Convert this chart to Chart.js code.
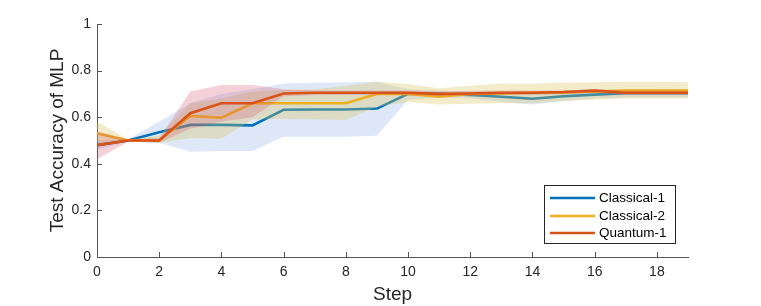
<!DOCTYPE html>
<html>
<head>
<meta charset="utf-8">
<script src="https://cdn.jsdelivr.net/npm/chart.js@4"></script>
<style>
  html, body { margin: 0; padding: 0; background: #fff; }
  #wrap { width: 761px; height: 306px; }
</style>
</head>
<body>
<div id="wrap"><canvas id="chart" width="761" height="306"></canvas></div>
<script>
let steps = [0,1,2,3,4,5,6,7,8,9,10,11,12,13,14,15,16,17,18,19];

let names = ["Classical-1", "Classical-2", "Quantum-1"];

// mean curves
let classical1 = [0.48,0.50,0.535,0.567,0.567,0.565,0.632,0.633,0.633,0.637,0.70,0.70,0.695,0.688,0.679,0.69,0.697,0.703,0.703,0.703];
let classical2 = [0.53,0.50,0.50,0.605,0.598,0.66,0.66,0.66,0.66,0.70,0.70,0.688,0.70,0.702,0.705,0.705,0.71,0.714,0.714,0.714];
let quantum1   = [0.48,0.50,0.50,0.617,0.66,0.66,0.702,0.705,0.705,0.705,0.705,0.70,0.702,0.705,0.705,0.708,0.714,0.705,0.705,0.705];

// shaded ranges
let c1Upper = [0.50,0.505,0.58,0.66,0.70,0.72,0.745,0.748,0.75,0.752,0.72,0.715,0.71,0.71,0.705,0.71,0.715,0.72,0.72,0.72];
let c1Lower = [0.46,0.497,0.49,0.452,0.455,0.455,0.516,0.516,0.516,0.52,0.675,0.685,0.68,0.665,0.655,0.67,0.68,0.685,0.685,0.685];
let c2Upper = [0.58,0.505,0.52,0.66,0.68,0.71,0.717,0.72,0.735,0.752,0.742,0.724,0.735,0.745,0.745,0.748,0.75,0.752,0.752,0.75];
let c2Lower = [0.48,0.497,0.49,0.51,0.508,0.59,0.592,0.59,0.588,0.645,0.665,0.655,0.658,0.66,0.66,0.67,0.675,0.68,0.68,0.68];
let q1Upper = [0.54,0.505,0.51,0.71,0.738,0.738,0.72,0.715,0.715,0.715,0.715,0.71,0.712,0.715,0.715,0.715,0.72,0.715,0.715,0.715];
let q1Lower = [0.42,0.495,0.49,0.55,0.58,0.60,0.69,0.695,0.695,0.695,0.695,0.69,0.692,0.695,0.695,0.698,0.705,0.695,0.695,0.695];

let yTicks = [0, 0.2, 0.4, 0.6, 0.8, 1];

function pts(arr) {
  return arr.map((v, i) => ({ x: steps[i], y: v }));
}

const lineColors = ["#0072BD", "#EDB120", "#D95319"];
const bandColors = ["rgba(80,130,220,0.18)", "rgba(215,195,90,0.32)", "rgba(210,70,100,0.25)"];

function band(upper, lower, idx, order) {
  // upper fills down to the lower dataset that follows it
  return [
    { data: pts(upper), borderWidth: 0, pointRadius: 0, backgroundColor: bandColors[idx],
      fill: "+1", order: order, isBand: true, tension: 0 },
    { data: pts(lower), borderWidth: 0, pointRadius: 0, fill: false, order: order, isBand: true, tension: 0 }
  ];
}

function line(vals, idx, order) {
  return { label: names[idx], data: pts(vals), borderColor: lineColors[idx], borderWidth: 2.6,
    pointRadius: 0, fill: false, order: order, tension: 0, borderJoinStyle: "miter" };
}

let datasets = [
  ...band(c1Upper, c1Lower, 0, 6),
  line(classical1, 0, 5),
  ...band(c2Upper, c2Lower, 1, 4),
  line(classical2, 1, 3),
  ...band(q1Upper, q1Lower, 2, 2),
  line(quantum1, 2, 1)
];

const extras = {
  id: "extras",
  afterDraw(chart) {
    const { ctx, chartArea: a, scales: { x, y } } = chart;
    ctx.save();
    // inward tick marks
    ctx.strokeStyle = "#555";
    ctx.lineWidth = 1;
    ctx.beginPath();
    x.ticks.forEach(t => {
      const px = Math.round(x.getPixelForValue(t.value)) + 0.5;
      ctx.moveTo(px, a.bottom);
      ctx.lineTo(px, a.bottom - 5);
    });
    y.ticks.forEach(t => {
      const py = Math.round(y.getPixelForValue(t.value)) + 0.5;
      ctx.moveTo(a.left, py);
      ctx.lineTo(a.left + 5, py);
    });
    ctx.stroke();

    // legend box
    const bx = 544.5, by = 185.5, bw = 131, bh = 58;
    ctx.fillStyle = "#fff";
    ctx.fillRect(bx, by, bw, bh);
    ctx.strokeStyle = "#262626";
    ctx.strokeRect(bx, by, bw, bh);
    ctx.font = "13.5px 'Liberation Sans', Arial, sans-serif";
    ctx.textBaseline = "middle";
    ctx.fillStyle = "#000";
    let rows = [198, 216, 233];
    names.forEach((n, i) => {
      ctx.strokeStyle = lineColors[i];
      ctx.lineWidth = 2.6;
      ctx.beginPath();
      ctx.moveTo(550, rows[i]);
      ctx.lineTo(595, rows[i]);
      ctx.stroke();
      ctx.fillText(n, 599, rows[i] + 0.5);
    });
    ctx.restore();
  }
};

new Chart(document.getElementById("chart"), {
  type: "line",
  data: { datasets: datasets },
  options: {
    responsive: false,
    animation: false,
    events: [],
    layout: { padding: { left: 0, top: 24, right: 73, bottom: 0 } },
    plugins: { legend: { display: false }, tooltip: { enabled: false } },
    scales: {
      x: {
        type: "linear", min: 0, max: 19,
        afterFit(s) { s.height = 49; },
        grid: { drawOnChartArea: false, drawTicks: false },
        border: { color: "#555", width: 1 },
        ticks: { stepSize: 2, includeBounds: false, padding: 7, color: "#262626",
          font: { family: "'Liberation Sans', Arial, sans-serif", size: 14 } },
        title: { display: true, text: "Step", color: "#262626", padding: { top: 0, bottom: 0 },
          font: { family: "'Liberation Sans', Arial, sans-serif", size: 19 } }
      },
      y: {
        min: 0, max: 1,
        afterFit(s) { s.width = 97; },
        afterBuildTicks(s) { s.ticks = yTicks.map(v => ({ value: v })); },
        grid: { drawOnChartArea: false, drawTicks: false },
        border: { color: "#555", width: 1 },
        ticks: { padding: 6, color: "#262626",
          callback: v => String(Math.round(v * 10) / 10),
          font: { family: "'Liberation Sans', Arial, sans-serif", size: 14 } },
        title: { display: true, text: "Test Accuracy of MLP", color: "#262626", padding: { top: 46, bottom: 0 },
          font: { family: "'Liberation Sans', Arial, sans-serif", size: 19 } }
      }
    }
  },
  plugins: [extras]
});
</script>
</body>
</html>
